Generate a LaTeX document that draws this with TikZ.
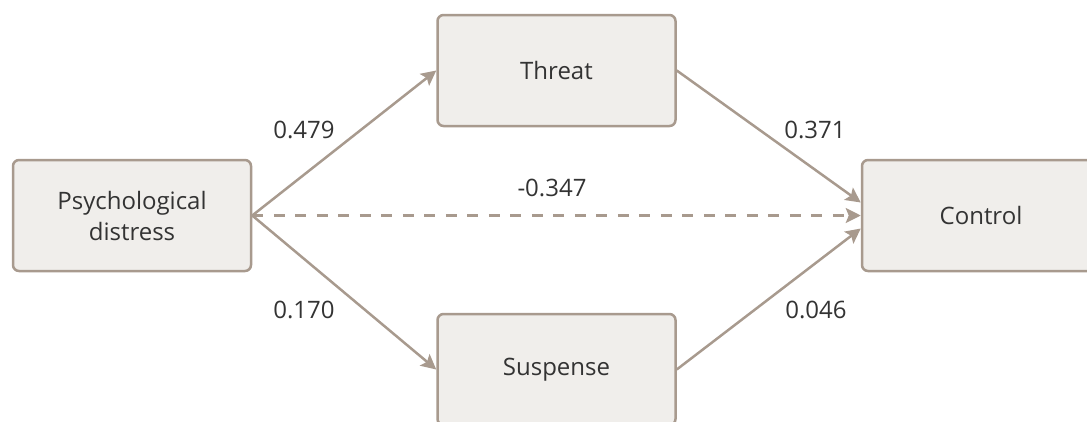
\documentclass[tikz,border=0pt]{standalone}
\usepackage{fontspec}
\setmainfont{Open Sans}
\usetikzlibrary{arrows.meta}

\definecolor{rahmen}{HTML}{A89A8E}
\definecolor{fuellung}{HTML}{F0EEEB}
\definecolor{schrift}{HTML}{333333}

\tikzset{
	kasten/.style={draw=rahmen, fill=fuellung, line width=2.5pt, rounded corners=6pt,
		minimum width=238pt, minimum height=111pt, inner sep=0pt,
		align=center, text=schrift, font=\fontsize{24}{31}\selectfont},
	pfad/.style={draw=rahmen, line width=2.5pt},
	gewicht/.style={text=schrift, font=\fontsize{24}{29}\selectfont}
}

\begin{document}
\begin{tikzpicture}[x=1pt,y=-1pt]
			\useasboundingbox (0,0) rectangle (1087,421);
			
			% Kaesten zeichnen
			\node[kasten] (Distress) at (132,215.5) {Psychological\\distress};
			\node[kasten] (Threat) at (556.5,70.5) {Threat};
			\node[kasten] (Suspense) at (556.5,369.5) {Suspense};
			\node[kasten] (Control) at (981,215.5) {Control};
			
			% Endpunkte am Zielkasten
			\coordinate (Control-oben) at ([yshift=13pt]Control.west);
			\coordinate (Control-unten) at ([yshift=-13pt]Control.west);
			
			% Pfeile zeichnen
			\begin{scope}[>={Stealth[length=15pt,width=15pt,inset=3pt]}]
				\draw[pfad,->] (Distress.east) to (Threat.west);
				\draw[pfad,->] (Distress.east) to (Suspense.west);
				\draw[pfad,->] (Threat.east) to (Control-oben);
				\draw[pfad,->] (Suspense.east) to (Control-unten);
				\draw[pfad,->,dash pattern=on 11pt off 10.5pt] (Distress.east) to (Control.west);
			\end{scope}
			
			% Pfadkoeffizienten eintragen
			\node[gewicht] (w-dt) at (304,130) {0.479};
			\node[gewicht] (w-tc) at (815,130) {0.371};
			\node[gewicht] (w-dc) at (552,188) {-0.347};
			\node[gewicht] (w-ds) at (304,310) {0.170};
			\node[gewicht] (w-sc) at (816,310) {0.046};
\end{tikzpicture}
\end{document}
